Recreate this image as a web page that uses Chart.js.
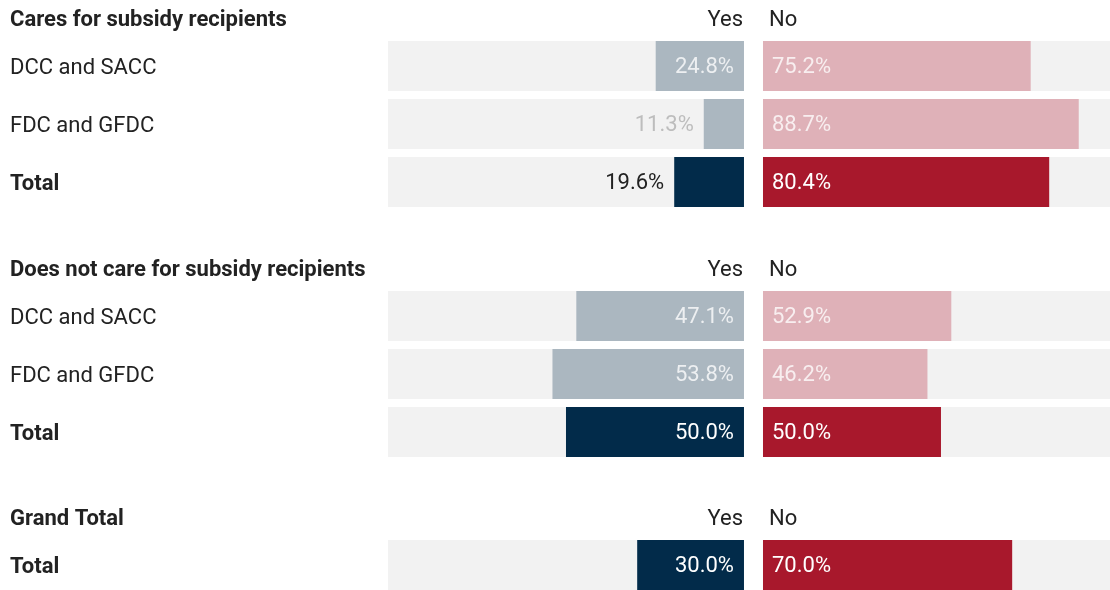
<!DOCTYPE html>
<html>
<head>
<meta charset="utf-8">
<script src="https://cdn.jsdelivr.net/npm/chart.js@4"></script>
<style>
  html, body { margin: 0; padding: 0; background: #fff; overflow: hidden; width: 1110px; height: 590px; }
  .box { position: absolute; left: 0; width: 1110px; }
</style>
</head>
<body>
<div class="box" style="top:0;height:211px"><canvas id="c1"></canvas></div>
<div class="box" style="top:250px;height:211px"><canvas id="c2"></canvas></div>
<div class="box" style="top:499px;height:95px"><canvas id="c3"></canvas></div>
<script>
// ---- data ----
const groupTitles = ['Cares for subsidy recipients', 'Does not care for subsidy recipients', 'Grand Total'];
const answerLabels = ['Yes', 'No'];
const caresLabels = ['DCC and SACC', 'FDC and GFDC', 'Total'];
const caresYes = [24.8, 11.3, 19.6];
const caresNo = [75.2, 88.7, 80.4];
const notCaresLabels = ['DCC and SACC', 'FDC and GFDC', 'Total'];
const notCaresYes = [47.1, 53.8, 50.0];
const notCaresNo = [52.9, 46.2, 50.0];
const grandLabels = ['Total'];
const grandYes = [30.0];
const grandNo = [70.0];

// ---- style ----
const FONT = 'Roboto, "Liberation Sans", sans-serif';
const FS = 22;
const GAP = 5.34;           // gap between the Yes and No panels, in % units
const X_MIN = -100 - GAP / 2;
const X_MAX = 100.15;
const C = {
  bg: '#f2f2f2', yesLight: '#abb7c0', yesDark: '#022b4a',
  noLight: '#dfb1b8', noDark: '#a8182c', text: '#222222'
};
const isTotal = l => l === 'Total';

const headerPlugin = {
  id: 'header',
  afterDraw(chart, args, opts) {
    const { ctx, chartArea, scales } = chart;
    const y = chartArea.top - 17;
    ctx.save();
    ctx.textBaseline = 'middle';
    ctx.fillStyle = C.text;
    ctx.font = 'bold ' + FS + 'px ' + FONT;
    ctx.textAlign = 'left';
    ctx.fillText(opts.title, 10, y);
    ctx.font = FS + 'px ' + FONT;
    ctx.textAlign = 'right';
    ctx.fillText(answerLabels[0], scales.x.getPixelForValue(-GAP / 2) - 1, y);
    ctx.textAlign = 'left';
    ctx.fillText(answerLabels[1], scales.x.getPixelForValue(GAP / 2) + 6, y);
    ctx.restore();
  }
};

const valueLabelPlugin = {
  id: 'valueLabels',
  afterDatasetsDraw(chart) {
    const { ctx } = chart;
    const labels = chart.data.labels;
    ctx.save();
    ctx.font = FS + 'px ' + FONT;
    ctx.textBaseline = 'middle';
    chart.data.datasets.forEach((ds, di) => {
      if (!ds.side) return;
      const meta = chart.getDatasetMeta(di);
      meta.data.forEach((el, i) => {
        const v = ds.values[i];
        const txt = v.toFixed(1) + '%';
        const left = Math.min(el.x, el.base), right = Math.max(el.x, el.base);
        const w = right - left;
        const tw = ctx.measureText(txt).width;
        const total = isTotal(labels[i]);
        const inside = w >= tw + 20;
        if (inside) ctx.fillStyle = total ? '#ffffff' : 'rgba(255,255,255,0.78)';
        else ctx.fillStyle = total ? C.text : '#bdbdbd';
        if (ds.side === 'yes') {
          ctx.textAlign = 'right';
          ctx.fillText(txt, inside ? right - 10 : left - 10, el.y + 1);
        } else {
          ctx.textAlign = 'left';
          ctx.fillText(txt, inside ? left + 9 : right + 9, el.y + 1);
        }
      });
    });
    ctx.restore();
  }
};

function makeChart(id, title, labels, yes, no) {
  const yesBars = yes.map(v => [-GAP / 2 - v, -GAP / 2]);
  const noBars = no.map(v => [GAP / 2, GAP / 2 + v]);
  const bgYes = labels.map(() => [-GAP / 2 - 100, -GAP / 2]);
  const bgNo = labels.map(() => [GAP / 2, GAP / 2 + 100]);
  return new Chart(document.getElementById(id), {
    type: 'bar',
    data: {
      labels: labels,
      datasets: [
        { data: bgYes, backgroundColor: C.bg, order: 2 },
        { data: bgNo, backgroundColor: C.bg, order: 2 },
        { data: yesBars, values: yes, side: 'yes', order: 1,
          backgroundColor: labels.map(l => isTotal(l) ? C.yesDark : C.yesLight) },
        { data: noBars, values: no, side: 'no', order: 1,
          backgroundColor: labels.map(l => isTotal(l) ? C.noDark : C.noLight) }
      ]
    },
    options: {
      indexAxis: 'y',
      responsive: true,
      maintainAspectRatio: false,
      animation: false,
      events: [],
      layout: { padding: { left: 10, top: 37, right: 0, bottom: 0 } },
      datasets: { bar: { grouped: false, categoryPercentage: 1, barPercentage: 50 / 58, borderWidth: 0 } },
      scales: {
        x: { type: 'linear', min: X_MIN, max: X_MAX, display: false },
        y: {
          type: 'category',
          grid: { display: false }, border: { display: false },
          afterFit: s => { s.width = 378; s.paddingTop = 0; s.paddingBottom = 0; },
          ticks: {
            crossAlign: 'far', padding: 0, color: C.text, labelOffset: 2,
            font: c => ({ family: FONT, size: FS, weight: isTotal(labels[c.index]) ? 'bold' : 'normal' })
          }
        }
      },
      plugins: {
        legend: { display: false }, tooltip: { enabled: false },
        header: { title: title }
      }
    },
    plugins: [headerPlugin, valueLabelPlugin]
  });
}

makeChart('c1', groupTitles[0], caresLabels, caresYes, caresNo);
makeChart('c2', groupTitles[1], notCaresLabels, notCaresYes, notCaresNo);
makeChart('c3', groupTitles[2], grandLabels, grandYes, grandNo);
</script>
</body>
</html>
